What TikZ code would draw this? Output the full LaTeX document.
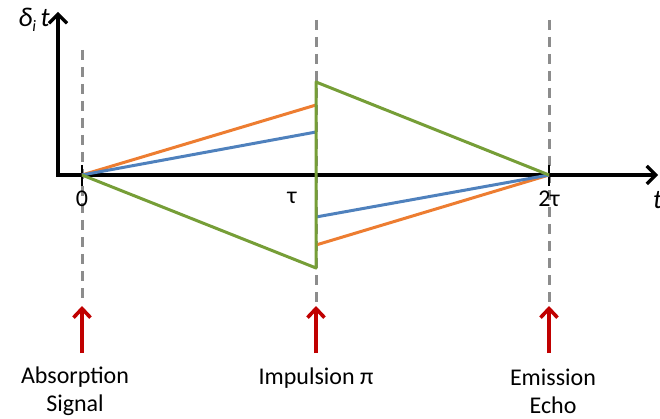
\documentclass[tikz,border=0pt]{standalone}
\usepackage{fontspec}
\setmainfont{Carlito}
\usetikzlibrary{arrows.meta}
\definecolor{cOrange}{RGB}{237,125,49}
\definecolor{cBlue}{RGB}{79,129,189}
\definecolor{cGreen}{RGB}{118,158,55}
\definecolor{cRed}{RGB}{192,0,0}
\definecolor{cGray}{RGB}{140,140,140}
\tikzset{
  axis/.style={line width=3.2pt,-{Straight Barb[length=9pt,width=18pt,line width=3.2pt]}},
  guide/.style={cGray,line width=3pt,dash pattern=on 10pt off 7pt},
  ray/.style={line width=3pt},
  pulse/.style={cRed,line width=3.6pt,-{Straight Barb[length=9pt,width=17pt,line width=3.6pt]}},
  lbl/.style={font=\fontsize{24}{28}\selectfont,align=center,inner sep=0pt},
}
\begin{document}
\begin{tikzpicture}[x=1pt,y=-1pt]
\useasboundingbox (0,0) rectangle (660,419);
% coordinates
\coordinate (O) at (58,175);
\coordinate (Ytop) at (58,12);
\coordinate (Xend) at (658,175);
\coordinate (A) at (82,175);
\coordinate (B) at (316,175);
\coordinate (C) at (549,175);
% guides
\draw[guide] (82,50) coordinate (g1t) -- (82,302) coordinate (g1b);
\draw[guide] (316,20) coordinate (g2t) -- (316,302) coordinate (g2b);
\draw[guide] (549,20) coordinate (g3t) -- (549,302) coordinate (g3b);
% axes
\draw[axis,line cap=rect] (O) -- (Ytop);
\draw[axis,line cap=rect] (O) -- (Xend);
% ticks
\draw[line width=2.4pt] (82,165) coordinate (t1a) -- (82,186) coordinate (t1b);
\draw[line width=2.4pt] (549,165) coordinate (t3a) -- (549,186) coordinate (t3b);
% rays
\coordinate (Ou) at (316,105);
\coordinate (Od) at (316,245);
\coordinate (Bu) at (316,132);
\coordinate (Bd) at (316,217);
\coordinate (Gu) at (316,82);
\coordinate (Gd) at (316,268);
\draw[ray,cOrange] (A) -- (Ou);
\draw[ray,cOrange] (Od) -- (C);
\draw[ray,cBlue] (A) -- (Bu);
\draw[ray,cBlue] (Bd) -- (C);
\draw[ray,cGreen,line join=round] (A) -- (Gd) -- (Gu) -- (C);
% pulses
\draw[pulse] (82,353) coordinate (p1b) -- (82,306) coordinate (p1t);
\draw[pulse] (316,353) coordinate (p2b) -- (316,306) coordinate (p2t);
\draw[pulse] (549,353) coordinate (p3b) -- (549,306) coordinate (p3t);
% labels
\node[lbl] (l0) at (82,199) {0};
\node[lbl] (ltau) at (292,198) {τ};
\node[lbl] (l2tau) at (549,199) {2τ};
\node[lbl,font=\fontsize{27}{30}\selectfont] (ly) at (34,20) {\itshape δ\raisebox{-0.35ex}{\fontsize{16}{16}\selectfont i}\,t};
\node[lbl,anchor=west,font=\fontsize{27}{30}\selectfont] (lx) at (653,200) {\itshape t};
\node[lbl] (n1) at (75,391) {Absorption\\Signal};
\node[lbl] (n2) at (316,378) {Impulsion π};
\node[lbl] (n3) at (553,391) {Emission\\Echo};
\end{tikzpicture}
\end{document}
